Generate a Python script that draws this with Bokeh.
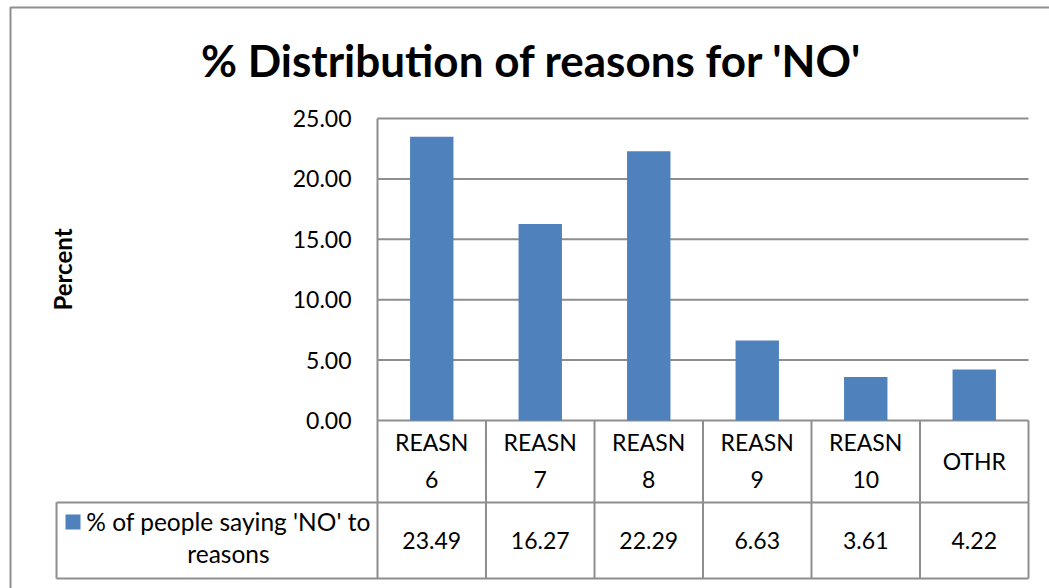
import math
from bokeh.plotting import figure
from bokeh.models import Range1d, FixedTicker, NumeralTickFormatter, LinearAxis
from bokeh.core.properties import value
from bokeh.embed import file_html
from bokeh.resources import INLINE

# ---- data ----
categories = ["REASN 6", "REASN 7", "REASN 8", "REASN 9", "REASN 10", "OTHR"]
tick_labels = ["REASN\n6", "REASN\n7", "REASN\n8", "REASN\n9", "REASN\n10", "OTHR"]
percent_no = [23.49, 16.27, 22.29, 6.63, 3.61, 4.22]
series_lines = ["% of people saying 'NO' to", "reasons"]
y_ticks = [0, 5, 10, 15, 20, 25]
title_text = "% Distribution of reasons for 'NO'"

# ---- layout geometry (pixels) ----
W, H = 1049, 588
FL, FR, FT, FB = 377, 1028, 118, 578     # plot area and data table edges
Y0_PX = 420                              # pixel row of the zero line
PX_PER_UNIT = (Y0_PX - FT) / 25.0
COL_W = (FR - FL) / len(categories)

def sx(px):
    return (px - FL) / COL_W

def sy(py):
    return (Y0_PX - py) / PX_PER_UNIT

FONT = value("Lato")
BAR = "#4F81BD"
LINE = "#8E8E8E"
n = len(categories)

# the frame covers the whole canvas; the value axis sits at x = 0
p = figure(width=W, height=H, output_backend="svg", toolbar_location=None,
           x_range=Range1d(sx(0), sx(W)), y_range=Range1d(sy(H), sy(0)),
           x_axis_type=None, y_axis_type=None,
           min_border_left=0, min_border_right=0, min_border_top=0, min_border_bottom=0)
p.outline_line_color = None
p.background_fill_color = "white"
p.border_fill_color = "white"
p.grid.visible = False

ax = LinearAxis(fixed_location=0, bounds=(sy(FB), y_ticks[-1]))
ax.ticker = FixedTicker(ticks=y_ticks)
ax.formatter = NumeralTickFormatter(format="0.00")
ax.major_tick_out = 0
ax.major_tick_in = 0
ax.minor_tick_out = 0
ax.minor_tick_in = 0
ax.major_label_standoff = 26
ax.major_label_text_font = "Lato"
ax.major_label_text_font_size = "23px"
ax.major_label_text_color = "black"
ax.axis_line_color = LINE
ax.axis_line_width = 2
p.add_layout(ax, "left")

# horizontal gridlines across the plot area
p.segment(x0=[0] * len(y_ticks), y0=y_ticks, x1=[n] * len(y_ticks), y1=y_ticks,
          line_color=LINE, line_width=2)

xs = [i + 0.5 for i in range(n)]

# bars
p.vbar(x=xs, top=percent_no, bottom=0, width=0.4, fill_color=BAR, line_color=None)

# data table grid
row_split = sy(502)
bottom = sy(FB)
p.segment(x0=[sx(56), sx(56)], y0=[row_split, bottom], x1=[n, n], y1=[row_split, bottom],
          line_color=LINE, line_width=2)
p.segment(x0=list(range(1, n + 1)), y0=[0] * n, x1=list(range(1, n + 1)), y1=[bottom] * n,
          line_color=LINE, line_width=2)
p.segment(x0=[sx(56)], y0=[row_split], x1=[sx(56)], y1=[bottom], line_color=LINE, line_width=2)

# header and value rows
p.text(x=xs, y=[sy(460)] * n, text=tick_labels, text_font=FONT, text_font_size="23px",
       text_align="center", text_baseline="middle", text_line_height=1.32, text_color="black")
p.text(x=xs, y=[sy(540)] * n, text=[f"{v:.2f}" for v in percent_no], text_font=FONT,
       text_font_size="23px", text_align="center", text_baseline="middle", text_color="black")

# legend cell
p.scatter(x=[sx(72.5)], y=[sy(521.5)], marker="square", size=15, fill_color=BAR, line_color=None)
p.text(x=[sx(228)] * 2, y=[sy(521), sy(553)], text=series_lines, text_font=FONT,
       text_font_size="24.5px", text_align="center", text_baseline="middle", text_color="black")

# title and axis title
p.text(x=[sx(531)], y=[sy(59)], text=[title_text], text_font=FONT, text_font_size="44px",
       text_font_style="bold", text_align="center", text_baseline="middle", text_color="black")
p.text(x=[sx(62)], y=[sy(269)], text=["Percent"], text_font=FONT, text_font_size="24px",
       text_font_style="bold", angle=math.pi / 2, text_align="center",
       text_baseline="middle", text_color="black")

# chart border
p.line(x=[sx(10), sx(10), sx(W + 20)], y=[sy(H + 20), sy(7), sy(7)], line_color=LINE, line_width=2)

open("out.html", "w").write(file_html(p, INLINE))
